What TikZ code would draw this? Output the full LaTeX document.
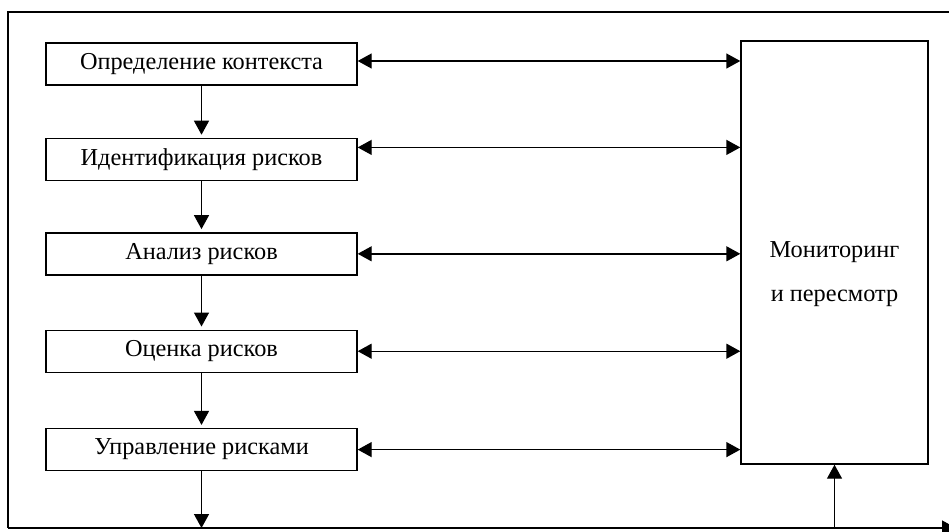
\documentclass[tikz,border=0pt]{standalone}
\usepackage{fontspec}
\setmainfont{Liberation Serif}
\usetikzlibrary{
    positioning,
    arrows.meta
}
\tikzset{stage/.style={
    draw,
    line width=1.4pt,
    minimum width=311pt,
    minimum height=42pt,
    inner sep=0pt,
    font=\fontsize{24.3}{28}\selectfont
}}
\tikzset{arrow/.style={-{Triangle[length=14pt,width=15pt]}, line width=1.4pt}}
\tikzset{biarrow/.style={{Triangle[length=14pt,width=15pt]}-{Triangle[length=14pt,width=15pt]}, line width=1.4pt}}

\begin{document}
\begin{tikzpicture}[
            x=1pt,
            y=-1pt,
            align=center,
    ]
        \useasboundingbox (0,0) rectangle (949,531);

        \node[stage] (context) at (201.5,64)
            {Определение контекста};

        \node[stage, below=52pt of context]
            (identify)
            {Идентификация рисков};

        \node[stage, below=51pt of identify]
            (analysis)
            {Анализ рисков};

        \node[stage, below=54pt of analysis]
            (evaluation)
            {Оценка рисков};

        \node[stage, below=55pt of evaluation]
            (treatment)
            {Управление рисками};

        \node[draw, line width=1.4pt, minimum width=187pt, minimum height=423pt,
              label={[name=monitor-text, yshift=-22pt,
                      font=\fontsize{24.3}{44}\selectfont, align=center]center:Мониторинг\\и пересмотр}]
            (monitor) at (834.5,252.5)
            {};

        % frame
        \coordinate (frame-tl) at (8,12);
        \coordinate (frame-tr) at (960,12);
        \coordinate (frame-bl) at (8,528);
        \coordinate (frame-br) at (956,528);
        \draw[line width=1.4pt] (frame-tr) -- (frame-tl) -- (frame-bl);
        \draw[arrow] (frame-bl) -- (frame-br);

        \draw[arrow, shorten >=3pt] (context) -- (identify);
        \draw[arrow, shorten >=3pt] (identify) -- (analysis);
        \draw[arrow, shorten >=3pt] (analysis) -- (evaluation);
        \draw[arrow, shorten >=3pt] (evaluation) -- (treatment);
        \draw[arrow] (treatment) -- (treatment.south |- frame-bl);

        \coordinate (identify-out) at ([yshift=12pt]identify.east);
        \draw[biarrow] ([yshift=3pt]context.east) -- ([yshift=3pt]context.east -| monitor.west);
        \draw[biarrow] (identify-out) -- (identify-out -| monitor.west);
        \draw[biarrow] (analysis) -- (analysis -| monitor.west);
        \draw[biarrow] (evaluation) -- (evaluation -| monitor.west);
        \draw[biarrow] (treatment) -- (treatment -| monitor.west);

        \draw[arrow] (monitor.south |- frame-bl) -- (monitor.south);

    \end{tikzpicture}
\end{document}
